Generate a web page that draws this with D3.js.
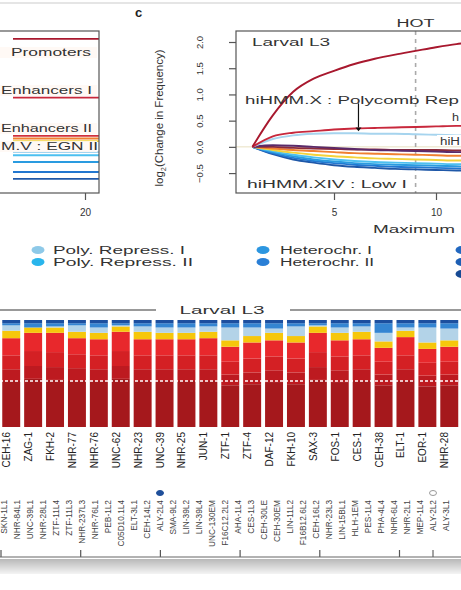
<!DOCTYPE html>
<html lang="en">
<head>
<meta charset="UTF-8">
<title>Chromatin states at HOT regions, Larval L3</title>
<style>
  body { margin: 0; background: #fff; }
  svg { display: block; font-family: "Liberation Sans", Arial, sans-serif; }
  .frame { fill: none; stroke: #555; stroke-width: 1.2; }
  .axis path { display: none; }
  .axis line { stroke: #555; stroke-width: 1.2; }
  .axis text { fill: #333; font-size: 10px; }
  .curve { fill: none; stroke-width: 1.9; }
  .note { fill: #333; font-size: 10px; }
  .tf { fill: #222; font-size: 10px; }
  .ds { fill: #444; font-size: 8.3px; }
</style>
<script src="https://d3js.org/d3.v7.min.js"></script>
</head>
<body>
<script>
// ---- panel c : change in state frequency vs maximum occupancy ----
const occ = [1, 2, 3, 4, 5, 6, 7, 8, 9, 10, 11, 12];
const cPromoters = [0, 0.6, 1.05, 1.3, 1.45, 1.58, 1.68, 1.76, 1.83, 1.9, 1.96, 2.0];
const cPolycombX = [0, 0.2, 0.27, 0.3, 0.33, 0.35, 0.36, 0.37, 0.38, 0.39, 0.4, 0.4];
const cPolyRep1  = [0, 0.15, 0.22, 0.25, 0.26, 0.26, 0.25, 0.25, 0.24, 0.23, 0.22, 0.21];
const cPurple    = [0, 0.03, 0.02, 0, -0.02, -0.04, -0.06, -0.07, -0.08, -0.09, -0.1, -0.1];
const cMaroon    = [0, 0, -0.02, -0.03, -0.04, -0.05, -0.05, -0.06, -0.06, -0.06, -0.07, -0.07];
const cOrange    = [0, -0.03, -0.06, -0.08, -0.1, -0.12, -0.13, -0.14, -0.15, -0.16, -0.17, -0.17];
const cYellow    = [0, -0.06, -0.11, -0.15, -0.18, -0.2, -0.22, -0.23, -0.24, -0.25, -0.26, -0.26];
const cSky       = [0, -0.08, -0.15, -0.2, -0.24, -0.27, -0.29, -0.3, -0.31, -0.32, -0.33, -0.33];
const cBlue      = [0, -0.1, -0.18, -0.24, -0.28, -0.31, -0.33, -0.34, -0.35, -0.36, -0.37, -0.38];
const cBlue2     = [0, -0.12, -0.21, -0.27, -0.31, -0.34, -0.36, -0.38, -0.39, -0.4, -0.41, -0.42];
const cNavy      = [0, -0.14, -0.24, -0.3, -0.35, -0.38, -0.4, -0.42, -0.43, -0.44, -0.45, -0.46];
const hotCut = 9;

// ---- panel b (only its right end is in frame) ----
const bOcc = [12, 16, 20, 24];
const bPromoters = [2.06, 2.06, 2.06, 2.06];
const bEnh1      = [0.94, 0.94, 0.94, 0.94];
const bEnh2      = [0.21, 0.21, 0.21, 0.21];
const bOrange    = [0.16, 0.16, 0.16, 0.16];
const bYellow    = [0.11, 0.11, 0.11, 0.11];
const bSky       = [-0.1, -0.1, -0.1, -0.1];
const bBlue      = [-0.16, -0.16, -0.16, -0.16];
const bBlue2     = [-0.29, -0.29, -0.29, -0.29];
const bBlue3     = [-0.48, -0.48, -0.48, -0.48];
const bNavy      = [-0.61, -0.61, -0.61, -0.61];

// ---- legend ----
const legendCol1 = ["Poly. Repress. I", "Poly. Repress. II"];
const legendCol2 = ["Heterochr. I", "Heterochr. II"];
const legendCol3 = ["", "", ""];

// ---- stacked bars (percent of sites per state) ----
const tfs = ["CEH-16", "ZAG-1", "FKH-2", "NHR-77", "NHR-76", "UNC-62", "NHR-23", "UNC-39", "NHR-25", "JUN-1",
  "ZTF-1", "ZTF-4", "DAF-12", "FKH-10", "SAX-3", "FOS-1", "CES-1", "CEH-38", "ELT-1", "EOR-1", "NHR-28"];
const deepRed   = [43, 45, 44, 43, 43, 45, 43, 43, 43, 43, 39, 40, 42, 40, 44, 42, 43, 39, 43, 38, 39];
const darkRed   = [11, 12, 12, 12, 11, 12, 11, 11, 11, 11, 10, 11, 11, 11, 12, 11, 11, 10, 11, 10, 10];
const midRed    = [13, 14, 14, 13, 13, 14, 13, 13, 13, 13, 12, 13, 13, 13, 14, 13, 13, 12, 13, 12, 12];
const brightRed = [16, 17, 18, 15, 15, 18, 15, 15, 15, 16, 14, 15, 15, 15, 18, 15, 15, 13, 17, 13, 14];
const yellow    = [7, 5, 5, 6, 6, 5, 7, 6, 6, 6, 6, 6, 7, 6, 6, 7, 7, 6, 6, 6, 6];
const lightBlue = [5, 0, 1, 6, 5, 1, 5, 5, 5, 5, 12, 8, 4, 9, 1, 5, 5, 8, 3, 14, 11];
const blue      = [2, 4, 3, 2, 4, 2, 3, 4, 4, 3, 4, 4, 5, 3, 2, 4, 3, 9, 4, 4, 5];
const darkBlue  = [3, 3, 3, 3, 3, 3, 3, 3, 3, 3, 3, 3, 3, 3, 3, 3, 3, 3, 3, 3, 3];
const refLevel = 43;

// ---- data sets in the lower row ----
const datasets = ["SKN-1L1", "NHR-84L1", "UNC-39L1", "NHR-28L1", "ZTF-11L4", "ZTF-11L3", "NHR-237L3", "NHR-76L1",
  "PEB-1L2", "C05D10.1L4", "ELT-3L1", "CEH-14L2", "ALY-2L4", "SMA-9L2", "LIN-39L2", "LIN-39L4", "UNC-130EM",
  "F16C12.2L2", "AHA-1L4", "CES-1L3", "CEH-30LE", "CEH-30EM", "LIN-11L2", "F16B12.6L2", "CEH-16L2", "NHR-23L3",
  "LIN-15BL1", "HLH-1EM", "PES-1L4", "PHA-4L4", "NHR-6L4", "NHR-2L1", "MEP-1L4", "ALY-2L2", "ALY-3L1"];
const marked = { "ALY-2L4": "filled", "ALY-2L2": "open" };
const groupTicks = [0, 1, 2, 3, 4, 5];

const W = 461, H = 590;
const svg = d3.select("body").append("svg").attr("width", W).attr("height", H);

// stretched text helper (the figure is widened horizontally)
function label(g, s, x, y, len, cls, anchor) {
  const t = g.append("text").attr("class", cls || "note").attr("x", x).attr("y", y)
    .attr("text-anchor", anchor || "start").text(s);
  if (len) t.attr("textLength", len).attr("lengthAdjust", "spacingAndGlyphs");
  return t;
}

svg.append("line").attr("x1", 0).attr("x2", W).attr("y1", 3).attr("y2", 3)
  .attr("stroke", "#ccc").attr("stroke-width", 1.2);

// ================= panel b (cropped) =================
const yTop = 31, yBot = 193;
const yc = d3.scaleLinear().domain([-0.88, 2.21]).range([yBot, yTop]);
const xb = d3.scaleLinear().domain([10, 20]).range([-5, 85]);

svg.append("clipPath").attr("id", "clipB").append("rect")
  .attr("x", -10).attr("y", yTop).attr("width", 109).attr("height", yBot - yTop);
const gb = svg.append("g");
const bLine = d3.line().x((d, i) => xb(bOcc[i])).y(d => yc(d));
const bSeries = [
  [bNavy, "#1f58a8"], [bBlue3, "#2277d0"], [bBlue2, "#2a9be0"], [bBlue, "#4cc0f0"], [bSky, "#a6d4ee"],
  [bYellow, "#f3d23a"], [bOrange, "#f08030"], [bEnh2, "#d0303c"], [bEnh1, "#c8283c"], [bPromoters, "#a8182e"]
];
gb.append("g").attr("clip-path", "url(#clipB)").selectAll("path").data(bSeries).join("path")
  .attr("class", "curve").attr("stroke", d => d[1]).attr("d", d => bLine(d[0]));

// only the right-hand part of these labels is inside the crop
const bLabels = [
  ["Promoters", 91, 56, 80],
  ["Enhancers I", 92, 94, 91],
  ["Enhancers II", 92, 132, 91],
  ["M.V : EGN II", 98, 150, 97]
];
bLabels.forEach(l => {
  gb.append("rect").attr("x", 0).attr("y", l[2] - 9).attr("width", 97).attr("height", 11)
    .attr("fill", "#fff8f4").attr("opacity", 0.9);
  label(gb, l[0], l[1], l[2], l[3], "note", "end").style("font-size", "10.5px");
});
gb.append("rect").attr("class", "frame").attr("x", -10).attr("y", yTop).attr("width", 109).attr("height", yBot - yTop);
gb.append("g").attr("class", "axis").attr("transform", `translate(0,${yBot})`)
  .call(d3.axisBottom(xb).tickValues([20]).tickSize(7).tickPadding(9).tickFormat(d3.format("d")));

// ================= panel c =================
const xc = d3.scaleLinear().domain([1, 5]).range([252.4, 334]);
const left = 236;
svg.append("clipPath").attr("id", "clipC").append("rect")
  .attr("x", left).attr("y", yTop).attr("width", W - left).attr("height", yBot - yTop);
const gc = svg.append("g");

label(gc, "c", 135, 17, null, "note").style("font-weight", "bold").style("font-size", "13px").style("fill", "#222");

gc.append("line").attr("x1", left).attr("x2", W).attr("y1", yc(0)).attr("y2", yc(0))
  .attr("stroke", "#e8e0c0").attr("stroke-width", 1);

gc.append("line").attr("x1", xc(hotCut)).attr("x2", xc(hotCut)).attr("y1", yTop).attr("y2", yBot)
  .attr("stroke", "#aaa").attr("stroke-width", 1.6).attr("stroke-dasharray", "4,4");
label(gc, "HOT", xc(hotCut), 27, 38, "note", "middle");

const cLine = d3.line().x((d, i) => xc(occ[i])).y(d => yc(d)).curve(d3.curveMonotoneX);
const cSeries = [
  [cNavy, "#1f58a8"], [cBlue2, "#2277d0"], [cBlue, "#2a9be0"], [cSky, "#4cc0f0"], [cYellow, "#f3d23a"],
  [cOrange, "#f08030"], [cMaroon, "#8c2a3a"], [cPurple, "#5a2a6a"], [cPolyRep1, "#a6d4ee"],
  [cPolycombX, "#c8283c"], [cPromoters, "#a8182e"]
];
gc.append("g").attr("clip-path", "url(#clipC)").selectAll("path").data(cSeries).join("path")
  .attr("class", "curve").attr("stroke", d => d[1]).attr("d", d => cLine(d[0]));

// annotations, cut by the right edge exactly as in the crop
label(gc, "Larval L3", 252, 46, 78);
label(gc, "hiHMM.X : Polycomb Rep", 245, 104, 214);
gc.append("line").attr("x1", xc(6.2)).attr("x2", xc(6.2)).attr("y1", yc(0.83)).attr("y2", yc(0.37))
  .attr("stroke", "#111").attr("stroke-width", 1.2);
gc.append("path").attr("fill", "#111")
  .attr("d", `M${xc(6.2) - 3},${yc(0.37)} L${xc(6.2) + 3},${yc(0.37)} L${xc(6.2)},${yc(0.3)} Z`);
label(gc, "h", 452, 121, 7);
gc.append("rect").attr("x", 437).attr("y", 135).attr("width", 24).attr("height", 10).attr("fill", "#fff");
label(gc, "hiH", 440, 145, 20);
label(gc, "hiHMM.XIV : Low I", 247, 188, 160);

gc.append("rect").attr("class", "frame").attr("x", left).attr("y", yTop).attr("width", 260).attr("height", yBot - yTop);

const yAx = gc.append("g").attr("class", "axis").attr("transform", `translate(${left},0)`)
  .call(d3.axisLeft(yc).tickValues([-0.5, 0, 0.5, 1, 1.5, 2]).tickFormat(d3.format(".1f")).tickSize(7));
yAx.selectAll("text").attr("x", null).attr("dy", null).attr("text-anchor", "middle")
  .attr("transform", "translate(-33,0) rotate(-90)").style("font-size", "9.5px");

gc.append("g").attr("class", "axis").attr("transform", `translate(0,${yBot})`)
  .call(d3.axisBottom(xc).tickValues([5, 10]).tickSize(7).tickPadding(9).tickFormat(d3.format("d")));

const yt = gc.append("text").attr("class", "note").style("font-size", "11px")
  .attr("transform", "translate(163,118) rotate(-90)").attr("text-anchor", "middle")
  .attr("textLength", 137).attr("lengthAdjust", "spacingAndGlyphs");
yt.append("tspan").text("log");
yt.append("tspan").style("font-size", "7px").attr("dy", 3).text("2");
yt.append("tspan").attr("dy", -3).text("(Change in Frequency)");

label(gc, "Maximum", 373, 233, 82).style("font-size", "11px");

// ================= legend =================
const gl = svg.append("g");
const legColors1 = ["#8ec9e8", "#29b5ec"], legColors2 = ["#2c96e0", "#2a7fd6"], legColors3 = ["#2268c0", "#1d5fb4", "#174a94"];
legendCol1.forEach((s, i) => {
  gl.append("ellipse").attr("cx", 38).attr("cy", 250 + i * 12).attr("rx", 6.5).attr("ry", 4).attr("fill", legColors1[i]);
  label(gl, s, 53, 254 + i * 12, i ? 140 : 132);
});
legendCol2.forEach((s, i) => {
  gl.append("ellipse").attr("cx", 263).attr("cy", 250 + i * 12).attr("rx", 6.5).attr("ry", 4).attr("fill", legColors2[i]);
  label(gl, s, 280, 254 + i * 12, i ? 94 : 92);
});
legendCol3.forEach((s, i) => {
  gl.append("ellipse").attr("cx", 462).attr("cy", 250 + i * 12).attr("rx", 6.5).attr("ry", 4).attr("fill", legColors3[i]);
});

// ================= stacked bars =================
const gs = svg.append("g");
gs.append("line").attr("x1", 0).attr("x2", 156).attr("y1", 310).attr("y2", 310).attr("stroke", "#999").attr("stroke-width", 2);
gs.append("line").attr("x1", 290).attr("x2", W).attr("y1", 310).attr("y2", 310).attr("stroke", "#999").attr("stroke-width", 2);
label(gs, "Larval L3", 222, 314, 85, "note", "middle");

const keys = ["deepRed", "darkRed", "midRed", "brightRed", "yellow", "lightBlue", "blue", "darkBlue"];
const keyColor = {
  deepRed: "#a5181c", darkRed: "#bd1a20", midRed: "#d42024", brightRed: "#e8282c",
  yellow: "#f6c70c", lightBlue: "#b3d3e8", blue: "#3485d2", darkBlue: "#1c4f9f"
};
const rows = tfs.map((tf, i) => ({
  tf, deepRed: deepRed[i], darkRed: darkRed[i], midRed: midRed[i], brightRed: brightRed[i],
  yellow: yellow[i], lightBlue: lightBlue[i], blue: blue[i], darkBlue: darkBlue[i]
}));
const stacked = d3.stack().keys(keys)(rows);
const xs = d3.scaleBand().domain(tfs).range([0.5, 460]).paddingInner(0.18).paddingOuter(0.08);
const ys = d3.scaleLinear().domain([0, 100]).range([427, 320]);

gs.selectAll("g.layer").data(stacked).join("g").attr("class", "layer")
  .attr("fill", d => keyColor[d.key])
  .selectAll("rect").data(d => d).join("rect")
  .attr("x", d => xs(d.data.tf)).attr("width", xs.bandwidth())
  .attr("y", d => ys(d[1])).attr("height", d => ys(d[0]) - ys(d[1]));

gs.append("line").attr("x1", 0).attr("x2", W).attr("y1", ys(refLevel)).attr("y2", ys(refLevel))
  .attr("stroke", "#fff").attr("stroke-width", 1.3).attr("stroke-dasharray", "3,2");

gs.selectAll("text.tf").data(tfs).join("text").attr("class", "tf")
  .attr("text-anchor", "end")
  .attr("transform", d => `translate(${xs(d) + xs.bandwidth() / 2 - 1},432) rotate(-90)`)
  .text(d => d);

// ================= data set labels and grouping bracket =================
const xd = d3.scalePoint().domain(datasets).range([7, 7 + 13 * (datasets.length - 1)]);
gs.selectAll("text.ds").data(datasets).join("text").attr("class", "ds")
  .attr("text-anchor", "end")
  .attr("fill", d => marked[d] ? "#3a7ad8" : "#444")
  .attr("transform", d => `translate(${xd(d)},500) rotate(-90)`)
  .text(d => d);
Object.keys(marked).forEach(k => {
  gs.append("ellipse").attr("cx", xd(k) - 3).attr("cy", 493).attr("rx", 3.5).attr("ry", 2.5)
    .attr("fill", marked[k] === "filled" ? "#1f4f9a" : "#fff")
    .attr("stroke", marked[k] === "filled" ? "#1f4f9a" : "#999");
});

const grad = svg.append("defs").append("linearGradient").attr("id", "band").attr("x1", 0).attr("x2", 0).attr("y1", 0).attr("y2", 1);
grad.append("stop").attr("offset", 0).attr("stop-color", "#b8b8b8");
grad.append("stop").attr("offset", 1).attr("stop-color", "#f4f4f4");
gs.append("rect").attr("x", 0).attr("y", 559).attr("width", W).attr("height", 15).attr("fill", "url(#band)");

const xg = d3.scaleLinear().domain([0, 5]).range([0.5, 399]);
gs.append("g").attr("class", "axis").attr("transform", "translate(0,557)")
  .call(d3.axisTop(xg).tickValues(groupTicks).tickSize(7).tickFormat(""));
gs.append("line").attr("x1", 0).attr("x2", W).attr("y1", 557).attr("y2", 557).attr("stroke", "#666").attr("stroke-width", 1.2);
gs.append("line").attr("x1", xd("ALY-2L2") - 3).attr("x2", xd("ALY-2L2") - 3).attr("y1", 557).attr("y2", 550)
  .attr("stroke", "#666").attr("stroke-width", 1.2);
</script>
</body>
</html>
